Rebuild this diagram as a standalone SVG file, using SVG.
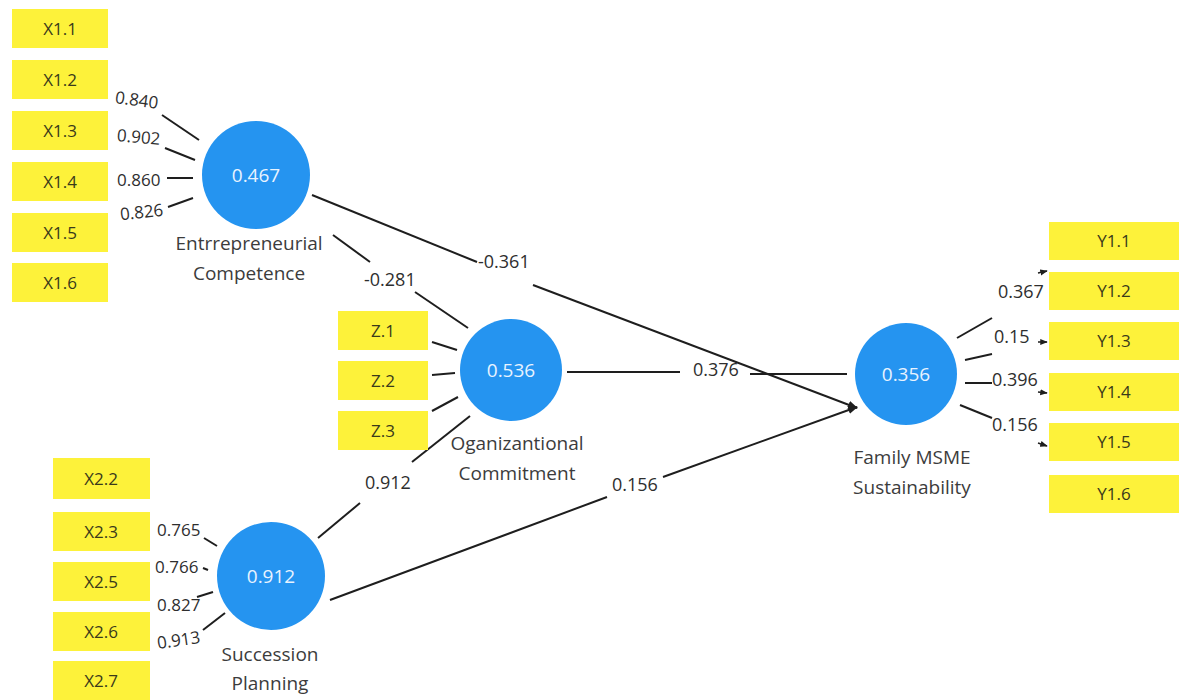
<svg xmlns="http://www.w3.org/2000/svg" width="1181" height="700" viewBox="0 0 1181 700">
<defs>
<style>
.box{fill:#fdf23a}
.bt{font-family:"Open Sans","Liberation Sans",sans-serif;font-size:17px;fill:#3a3a1a;text-anchor:middle}
.lv{fill:#2594f0}
.lvt{font-family:"Open Sans","Liberation Sans",sans-serif;font-size:19px;fill:#e8f3ff;text-anchor:middle}
.lbl{font-family:"Open Sans","Liberation Sans",sans-serif;font-size:19px;fill:#3c3c3c;text-anchor:middle}
.num{font-family:"Open Sans","Liberation Sans",sans-serif;font-size:17px;fill:#2e2e2e}
.pl{font-size:18px}
.ln{stroke:#1e1e1e;stroke-width:2;fill:none}
.sm{stroke:#1e1e1e;stroke-width:1.5;fill:none}
</style>
<marker id="ah" viewBox="0 0 10 10" refX="9" refY="5" markerWidth="5" markerHeight="5" orient="auto"><path d="M0,1 L10,5 L0,9 z" fill="#1e1e1e"/></marker>
</defs>
<rect width="1181" height="700" fill="#ffffff"/>

<g id="connectors">
<line class="ln" x1="162" y1="115" x2="199" y2="140"/>
<line class="ln" x1="165" y1="148" x2="195" y2="160"/>
<line class="ln" x1="167" y1="178" x2="193" y2="178"/>
<line class="ln" x1="168" y1="207" x2="193" y2="198"/>
<line class="ln" x1="333" y1="235" x2="370" y2="262"/>
<line class="ln" x1="415" y1="292" x2="468" y2="328"/>
<line class="ln" x1="312" y1="195" x2="477" y2="262"/>
<line class="ln" x1="533" y1="285" x2="857" y2="408" marker-end="url(#ah)"/>
<line class="ln" x1="567" y1="372" x2="680" y2="372"/>
<line class="ln" x1="750" y1="374" x2="847" y2="374"/>
<line class="ln" x1="432" y1="342" x2="457" y2="350"/>
<line class="ln" x1="432" y1="375" x2="455" y2="373"/>
<line class="ln" x1="432" y1="411" x2="458" y2="397"/>
<line class="ln" x1="318" y1="538" x2="360" y2="503"/>
<line class="ln" x1="412" y1="462" x2="470" y2="416"/>
<line class="ln" x1="330" y1="600" x2="607" y2="497"/>
<line class="ln" x1="663" y1="477" x2="857" y2="407" marker-end="url(#ah)"/>
<line class="ln" x1="204" y1="538" x2="217" y2="546"/>
<line class="ln" x1="203" y1="568" x2="208" y2="570"/>
<line class="ln" x1="197" y1="597" x2="213" y2="592"/>
<line class="ln" x1="203" y1="630" x2="225" y2="613"/>
<line class="ln" x1="957" y1="338" x2="992" y2="318"/>
<line class="ln" x1="965" y1="360" x2="992" y2="354"/>
<line class="ln" x1="965" y1="383" x2="992" y2="383"/>
<line class="ln" x1="960" y1="405" x2="992" y2="418"/>
<line class="sm" x1="1038" y1="273" x2="1047" y2="271" marker-end="url(#ah)"/>
<line class="sm" x1="1038" y1="342" x2="1047" y2="342" marker-end="url(#ah)"/>
<line class="sm" x1="1038" y1="392" x2="1047" y2="393" marker-end="url(#ah)"/>
<line class="sm" x1="1038" y1="443" x2="1047" y2="446" marker-end="url(#ah)"/>
</g>

<g id="connector-labels">
<text class="num" x="115" y="106" transform="rotate(8 137 100)">0.840</text>
<text class="num" x="117" y="143" transform="rotate(5 139 137)">0.902</text>
<text class="num" x="117" y="186">0.860</text>
<text class="num" x="120" y="218" transform="rotate(-6 142 213)">0.826</text>
<text class="num pl" x="364" y="286">-0.281</text>
<text class="num pl" x="478" y="268">-0.361</text>
<text class="num pl" x="693" y="376">0.376</text>
<text class="num pl" x="365" y="489">0.912</text>
<text class="num pl" x="612" y="491">0.156</text>
<text class="num" x="157" y="536">0.765</text>
<text class="num" x="155" y="573">0.766</text>
<text class="num" x="157" y="611">0.827</text>
<text class="num" x="157" y="646" transform="rotate(-8 179 641)">0.913</text>
<text class="num pl" x="998" y="298">0.367</text>
<text class="num pl" x="994" y="343">0.15</text>
<text class="num pl" x="992" y="386">0.396</text>
<text class="num pl" x="992" y="431">0.156</text>
</g>

<g id="x1-indicators">
<rect class="box" x="12" y="9" width="96" height="39"/><text class="bt" x="60" y="35">X1.1</text>
<rect class="box" x="12" y="60" width="96" height="39"/><text class="bt" x="60" y="86">X1.2</text>
<rect class="box" x="12" y="111" width="96" height="39"/><text class="bt" x="60" y="137">X1.3</text>
<rect class="box" x="12" y="162" width="96" height="39"/><text class="bt" x="60" y="188">X1.4</text>
<rect class="box" x="12" y="213" width="96" height="39"/><text class="bt" x="60" y="239">X1.5</text>
<rect class="box" x="12" y="263" width="96" height="39"/><text class="bt" x="60" y="289">X1.6</text>
</g>

<g id="z-indicators">
<rect class="box" x="338" y="311" width="90" height="39"/><text class="bt" x="383" y="337">Z.1</text>
<rect class="box" x="338" y="361" width="90" height="39"/><text class="bt" x="383" y="387">Z.2</text>
<rect class="box" x="338" y="411" width="90" height="39"/><text class="bt" x="383" y="437">Z.3</text>
</g>

<g id="x2-indicators">
<rect class="box" x="53" y="458" width="97" height="41"/><text class="bt" x="101" y="485">X2.2</text>
<rect class="box" x="53" y="512" width="97" height="39"/><text class="bt" x="101" y="538">X2.3</text>
<rect class="box" x="53" y="562" width="97" height="39"/><text class="bt" x="101" y="588">X2.5</text>
<rect class="box" x="53" y="612" width="97" height="39"/><text class="bt" x="101" y="638">X2.6</text>
<rect class="box" x="53" y="661" width="97" height="39"/><text class="bt" x="101" y="687">X2.7</text>
</g>

<g id="y-indicators">
<rect class="box" x="1049" y="222" width="130" height="38"/><text class="bt" x="1114" y="247">Y1.1</text>
<rect class="box" x="1049" y="272" width="130" height="38"/><text class="bt" x="1114" y="297">Y1.2</text>
<rect class="box" x="1049" y="322" width="130" height="38"/><text class="bt" x="1114" y="347">Y1.3</text>
<rect class="box" x="1049" y="373" width="130" height="38"/><text class="bt" x="1114" y="398">Y1.4</text>
<rect class="box" x="1049" y="423" width="130" height="38"/><text class="bt" x="1114" y="448">Y1.5</text>
<rect class="box" x="1049" y="475" width="130" height="38"/><text class="bt" x="1114" y="500">Y1.6</text>
</g>

<g id="entrepreneurial-competence">
<circle class="lv" cx="256" cy="175" r="54"/>
<text class="lvt" x="256" y="182">0.467</text>
<text class="lbl" x="249" y="250">Entrrepreneurial</text>
<text class="lbl" x="249" y="280">Competence</text>
</g>

<g id="organizational-commitment">
<circle class="lv" cx="511" cy="370" r="51"/>
<text class="lvt" x="511" y="377">0.536</text>
<text class="lbl" x="517" y="450">Oganizantional</text>
<text class="lbl" x="517" y="480">Commitment</text>
</g>

<g id="succession-planning">
<circle class="lv" cx="271" cy="576" r="54"/>
<text class="lvt" x="271" y="583">0.912</text>
<text class="lbl" x="270" y="661">Succession</text>
<text class="lbl" x="270" y="690">Planning</text>
</g>

<g id="family-msme-sustainability">
<circle class="lv" cx="906" cy="374" r="51"/>
<text class="lvt" x="906" y="381">0.356</text>
<text class="lbl" x="912" y="464">Family MSME</text>
<text class="lbl" x="912" y="494">Sustainability</text>
</g>
</svg>
